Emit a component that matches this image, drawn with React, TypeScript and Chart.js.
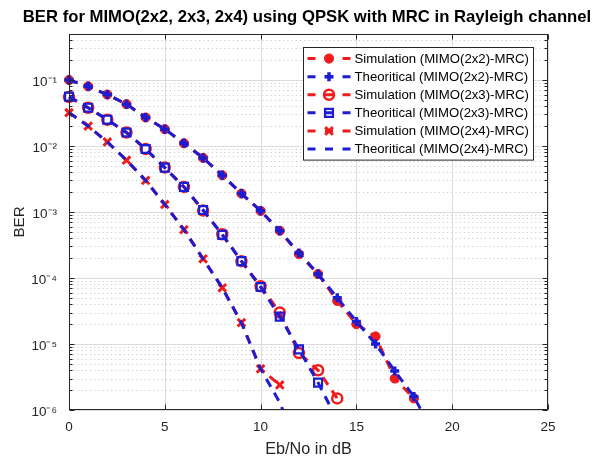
import React, { useEffect, useRef } from 'react';
import { Chart, registerables } from 'chart.js';

Chart.register(...registerables);

// ---------------- data ----------------
const snrSim2x2 = [0, 1, 2, 3, 4, 5, 6, 7, 8, 9, 10, 11, 12, 13, 14, 15, 16, 17, 18];
const berSim2x2 = [0.1, 0.08, 0.06, 0.043, 0.027, 0.018, 0.011, 0.0066, 0.0036, 0.0019, 0.00104, 5.2e-4, 2.3e-4, 1.15e-4, 4.5e-5, 2.0e-5, 1.3e-5, 3.0e-6, 1.5e-6];

const snrTh2x2 = [0, 1, 2, 3, 4, 5, 6, 7, 8, 9, 10, 11, 12, 13, 14, 15, 16, 17, 18, 19];
const berTh2x2 = [0.1, 0.08, 0.06, 0.043, 0.027, 0.018, 0.011, 0.0066, 0.0036, 0.0019, 0.00104, 5.2e-4, 2.4e-4, 1.15e-4, 5.0e-5, 2.2e-5, 1.0e-5, 3.9e-6, 1.6e-6, 4.5e-7];

const snrSim2x3 = [0, 1, 2, 3, 4, 5, 6, 7, 8, 9, 10, 11, 12, 13, 14];
const berSim2x3 = [0.055, 0.038, 0.025, 0.016, 0.009, 0.0047, 0.0024, 0.00105, 4.6e-4, 1.8e-4, 7.5e-5, 3.0e-5, 7.3e-6, 4.0e-6, 1.5e-6];

const snrTh2x3 = [0, 1, 2, 3, 4, 5, 6, 7, 8, 9, 10, 11, 12, 13, 14];
const berTh2x3 = [0.056, 0.038, 0.025, 0.016, 0.009, 0.0047, 0.0024, 0.00107, 4.5e-4, 1.8e-4, 7.3e-5, 2.6e-5, 8.3e-6, 2.6e-6, 7.0e-7];

const snrSim2x4 = [0, 1, 2, 3, 4, 5, 6, 7, 8, 9, 10, 11];
const berSim2x4 = [0.032, 0.02, 0.0115, 0.0061, 0.003, 0.0013, 5.4e-4, 1.95e-4, 7.1e-5, 2.1e-5, 4.2e-6, 2.4e-6];

const snrTh2x4 = [0, 1, 2, 3, 4, 5, 6, 7, 8, 9, 10, 11, 12];
const berTh2x4 = [0.032, 0.02, 0.0115, 0.0061, 0.003, 0.0013, 5.4e-4, 1.95e-4, 7.1e-5, 2.1e-5, 4.2e-6, 1.3e-6, 2.5e-7];

const seriesLabels = [
  'Simulation (MIMO(2x2)-MRC)',
  'Theoritical (MIMO(2x2)-MRC)',
  'Simulation (MIMO(2x3)-MRC)',
  'Theoritical (MIMO(2x3)-MRC)',
  'Simulation (MIMO(2x4)-MRC)',
  'Theoritical (MIMO(2x4)-MRC)',
];

const xTicks = [0, 5, 10, 15, 20, 25];
const yTicks = [1e-6, 1e-5, 1e-4, 1e-3, 1e-2, 1e-1];
const yTickLabels = ['10⁻⁶', '10⁻⁵', '10⁻⁴', '10⁻³', '10⁻²', '10⁻¹'];

const titleText = 'BER for MIMO(2x2, 2x3, 2x4) using QPSK with MRC in Rayleigh channel';
const xTitle = 'Eb/No in dB';
const yTitle = 'BER';

// ---------------- styles ----------------
const RED = '#f01c1c';
const BLUE = '#1c1cd2';
const FONT = "'Liberation Sans', Arial, Helvetica, sans-serif";
const AXIS_COLOR = '#262626';
const DASH = [9, 7];

const pts = (xs: number[], ys: number[]) => xs.map((x, i) => ({ x, y: ys[i] }));

function drawMarker(ctx: CanvasRenderingContext2D, style: string, x: number, y: number, r: number, fill: string, stroke: string, lw: number) {
  if (!r) return;
  ctx.save();
  ctx.lineWidth = lw;
  ctx.strokeStyle = stroke;
  ctx.fillStyle = fill;
  ctx.setLineDash([]);
  ctx.beginPath();
  if (style === 'circle') {
    ctx.arc(x, y, r, 0, Math.PI * 2);
    ctx.fill();
    ctx.stroke();
  } else if (style === 'rect') {
    const s = Math.SQRT1_2 * r;
    ctx.rect(x - s, y - s, 2 * s, 2 * s);
    ctx.fill();
    ctx.stroke();
  } else if (style === 'cross') {
    ctx.moveTo(x, y - r); ctx.lineTo(x, y + r);
    ctx.moveTo(x - r, y); ctx.lineTo(x + r, y);
    ctx.stroke();
  } else if (style === 'crossRot') {
    const s = Math.SQRT1_2 * r;
    ctx.moveTo(x - s, y - s); ctx.lineTo(x + s, y + s);
    ctx.moveTo(x - s, y + s); ctx.lineTo(x + s, y - s);
    ctx.stroke();
  }
  ctx.restore();
}

const matlabAxesPlugin = {
  id: 'matlabAxes',
  beforeDatasetsDraw(chart: any) {
    const { ctx, chartArea: a, scales } = chart;
    const xs = scales.x, ys = scales.y;
    ctx.save();
    // minor dotted grid (y)
    ctx.strokeStyle = '#cdcdcd';
    ctx.lineWidth = 1;
    ctx.setLineDash([1.2, 3]);
    for (let d = -6; d <= 0; d++) {
      for (let k = 2; k <= 9; k++) {
        const v = k * Math.pow(10, d);
        if (v < ys.min || v > ys.max) continue;
        const py = Math.round(ys.getPixelForValue(v)) + 0.5;
        ctx.beginPath(); ctx.moveTo(a.left, py); ctx.lineTo(a.right, py); ctx.stroke();
      }
    }
    // major grid
    ctx.setLineDash([]);
    ctx.strokeStyle = '#dcdcdc';
    yTicks.forEach((v) => {
      const py = Math.round(ys.getPixelForValue(v)) + 0.5;
      ctx.beginPath(); ctx.moveTo(a.left, py); ctx.lineTo(a.right, py); ctx.stroke();
    });
    xTicks.forEach((v) => {
      const px = Math.round(xs.getPixelForValue(v)) + 0.5;
      ctx.beginPath(); ctx.moveTo(px, a.top); ctx.lineTo(px, a.bottom); ctx.stroke();
    });
    ctx.restore();
  },
  afterDatasetsDraw(chart: any) {
    const { ctx, chartArea: a, scales } = chart;
    const xs = scales.x, ys = scales.y;
    ctx.save();
    ctx.strokeStyle = AXIS_COLOR;
    ctx.lineWidth = 1;
    ctx.setLineDash([]);
    const L = Math.round(a.left) + 0.5, R = Math.round(a.right) - 0.5;
    const T = Math.round(a.top) + 0.5, B = Math.round(a.bottom) - 0.5;
    ctx.strokeRect(L, T, R - L, B - T);
    const major = 5, minor = 3;
    ctx.beginPath();
    xTicks.forEach((v) => {
      const px = Math.round(xs.getPixelForValue(v)) + 0.5;
      ctx.moveTo(px, B); ctx.lineTo(px, B - major);
      ctx.moveTo(px, T); ctx.lineTo(px, T + major);
    });
    yTicks.forEach((v) => {
      const py = Math.round(ys.getPixelForValue(v)) + 0.5;
      ctx.moveTo(L, py); ctx.lineTo(L + major, py);
      ctx.moveTo(R, py); ctx.lineTo(R - major, py);
    });
    for (let d = -6; d <= 0; d++) {
      for (let k = 2; k <= 9; k++) {
        const v = k * Math.pow(10, d);
        if (v < ys.min || v > ys.max) continue;
        const py = Math.round(ys.getPixelForValue(v)) + 0.5;
        ctx.moveTo(L, py); ctx.lineTo(L + minor, py);
        ctx.moveTo(R, py); ctx.lineTo(R - minor, py);
      }
    }
    ctx.stroke();
    ctx.restore();
  },
  afterDraw(chart: any) {
    // MATLAB-style legend, inside top-right of the axes
    const { ctx, chartArea: a } = chart;
    const dsets = chart.data.datasets;
    const fontSize = 13.2;
    ctx.save();
    ctx.font = `${fontSize}px ${FONT}`;
    let maxW = 0;
    dsets.forEach((d: any) => { maxW = Math.max(maxW, ctx.measureText(d.label).width); });
    const lineLen = 43, padL = 4, gap = 4, padR = 5, rowH = 18.1, padV = 2;
    const w = padL + lineLen + gap + maxW + padR;
    const h = dsets.length * rowH + padV * 2;
    const right = Math.round(a.right) - 14.5;
    const top = Math.round(a.top) + 13.5;
    const left = right - Math.round(w);
    ctx.fillStyle = '#ffffff';
    ctx.fillRect(left, top, right - left, h);
    ctx.strokeStyle = AXIS_COLOR;
    ctx.lineWidth = 1;
    ctx.strokeRect(left, top, right - left, h);
    dsets.forEach((d: any, i: number) => {
      const cy = top + padV + rowH * (i + 0.5);
      const x0 = left + padL, x1 = x0 + lineLen;
      ctx.save();
      ctx.strokeStyle = d.borderColor;
      ctx.lineWidth = d.borderWidth;
      ctx.setLineDash([8, 9.5]);
      ctx.beginPath(); ctx.moveTo(x0, cy); ctx.lineTo(x1 + 1, cy); ctx.stroke();
      ctx.restore();
      drawMarker(ctx, d.pointStyle, (x0 + x1) / 2, cy, d.pointRadius, d.pointBackgroundColor, d.pointBorderColor, d.pointBorderWidth);
      ctx.fillStyle = '#000000';
      ctx.textAlign = 'left';
      ctx.textBaseline = 'middle';
      ctx.fillText(d.label, x1 + gap, cy + 0.5);
    });
    ctx.restore();
  },
};

const common = {
  borderWidth: 3,
  borderDash: DASH,
  tension: 0,
  fill: false,
  clip: { left: 8, top: 8, right: 0, bottom: 0 },
};

export default function App() {
  const ref = useRef<HTMLCanvasElement | null>(null);

  useEffect(() => {
    if (!ref.current) return;
    const chart = new Chart(ref.current, {
      type: 'line',
      data: {
        datasets: [
          {
            ...common, order: 2, label: seriesLabels[0], data: pts(snrSim2x2, berSim2x2),
            borderColor: RED, pointStyle: 'circle', pointRadius: 4.6,
            pointBackgroundColor: RED, pointBorderColor: RED, pointBorderWidth: 1,
          },
          {
            ...common, order: 1, label: seriesLabels[1], data: pts(snrTh2x2, berTh2x2),
            borderColor: BLUE, pointStyle: 'cross', pointRadius: 4.5,
            pointBackgroundColor: BLUE, pointBorderColor: BLUE, pointBorderWidth: 3.5,
          },
          {
            ...common, order: 2, label: seriesLabels[2], data: pts(snrSim2x3, berSim2x3),
            borderColor: RED, pointStyle: 'circle', pointRadius: 5,
            pointBackgroundColor: 'rgba(0,0,0,0)', pointBorderColor: RED, pointBorderWidth: 2.5,
          },
          {
            ...common, order: 1, label: seriesLabels[3], data: pts(snrTh2x3, berTh2x3),
            borderColor: BLUE, pointStyle: 'rect', pointRadius: 5.6,
            pointBackgroundColor: 'rgba(0,0,0,0)', pointBorderColor: BLUE, pointBorderWidth: 2.2,
          },
          {
            ...common, order: 2, label: seriesLabels[4], data: pts(snrSim2x4, berSim2x4),
            borderColor: RED, pointStyle: 'crossRot', pointRadius: 5.4,
            pointBackgroundColor: RED, pointBorderColor: RED, pointBorderWidth: 3,
          },
          {
            ...common, order: 1, label: seriesLabels[5], data: pts(snrTh2x4, berTh2x4),
            borderColor: BLUE, pointStyle: 'circle', pointRadius: 0,
            pointBackgroundColor: BLUE, pointBorderColor: BLUE, pointBorderWidth: 0,
          },
        ],
      },
      options: {
        animation: false,
        responsive: false,
        maintainAspectRatio: false,
        events: [],
        layout: { padding: { left: 11, right: 0, top: 0, bottom: 0 } },
        plugins: {
          legend: { display: false },
          tooltip: { enabled: false },
          title: {
            display: true,
            text: titleText,
            color: '#000000',
            font: { family: FONT, size: 16.7, weight: 'bold' },
            padding: { top: 7, bottom: 6.8 },
          },
        },
        scales: {
          x: {
            type: 'linear',
            min: 0,
            max: 25,
            afterBuildTicks: (s: any) => { s.ticks = xTicks.map((v) => ({ value: v })); },
            afterFit: (s: any) => { s.height = 49; },
            grid: { display: false, drawTicks: false },
            border: { display: false },
            ticks: {
              color: '#262626',
              font: { family: FONT, size: 13.5 },
              padding: 9,
              maxRotation: 0,
              callback: (v: any) => String(v),
            },
            title: {
              display: true,
              text: xTitle,
              color: '#262626',
              font: { family: FONT, size: 16.2 },
              padding: { top: 0, bottom: 0 },
            },
          },
          y: {
            type: 'logarithmic',
            min: 1e-6,
            max: 0.5,
            afterBuildTicks: (s: any) => { s.ticks = yTicks.map((v) => ({ value: v })); },
            afterFit: (s: any) => { s.width = 58; },
            grid: { display: false, drawTicks: false },
            border: { display: false },
            ticks: {
              color: '#262626',
              font: { family: FONT, size: 13.5 },
              padding: 12,
              labelOffset: 2,
              callback: (v: any) => {
                const i = yTicks.findIndex((t) => Math.abs(Math.log10(t) - Math.log10(v)) < 1e-6);
                return i >= 0 ? yTickLabels[i] : '';
              },
            },
            title: {
              display: true,
              text: yTitle,
              color: '#262626',
              font: { family: FONT, size: 15.2 },
              padding: { top: 0, bottom: 0 },
            },
          },
          yRight: {
            type: 'linear',
            position: 'right',
            display: true,
            afterFit: (s: any) => { s.width = 55; },
            grid: { display: false, drawTicks: false },
            border: { display: false },
            ticks: { display: false },
          },
        },
      },
      plugins: [matlabAxesPlugin],
    } as any);
    return () => chart.destroy();
  }, []);

  return (
    <div style={{ position: 'fixed', left: 0, top: 0, width: 603, height: 459, background: '#ffffff' }}>
      <canvas ref={ref} width={603} height={459} style={{ display: 'block', width: 603, height: 459 }} />
    </div>
  );
}
